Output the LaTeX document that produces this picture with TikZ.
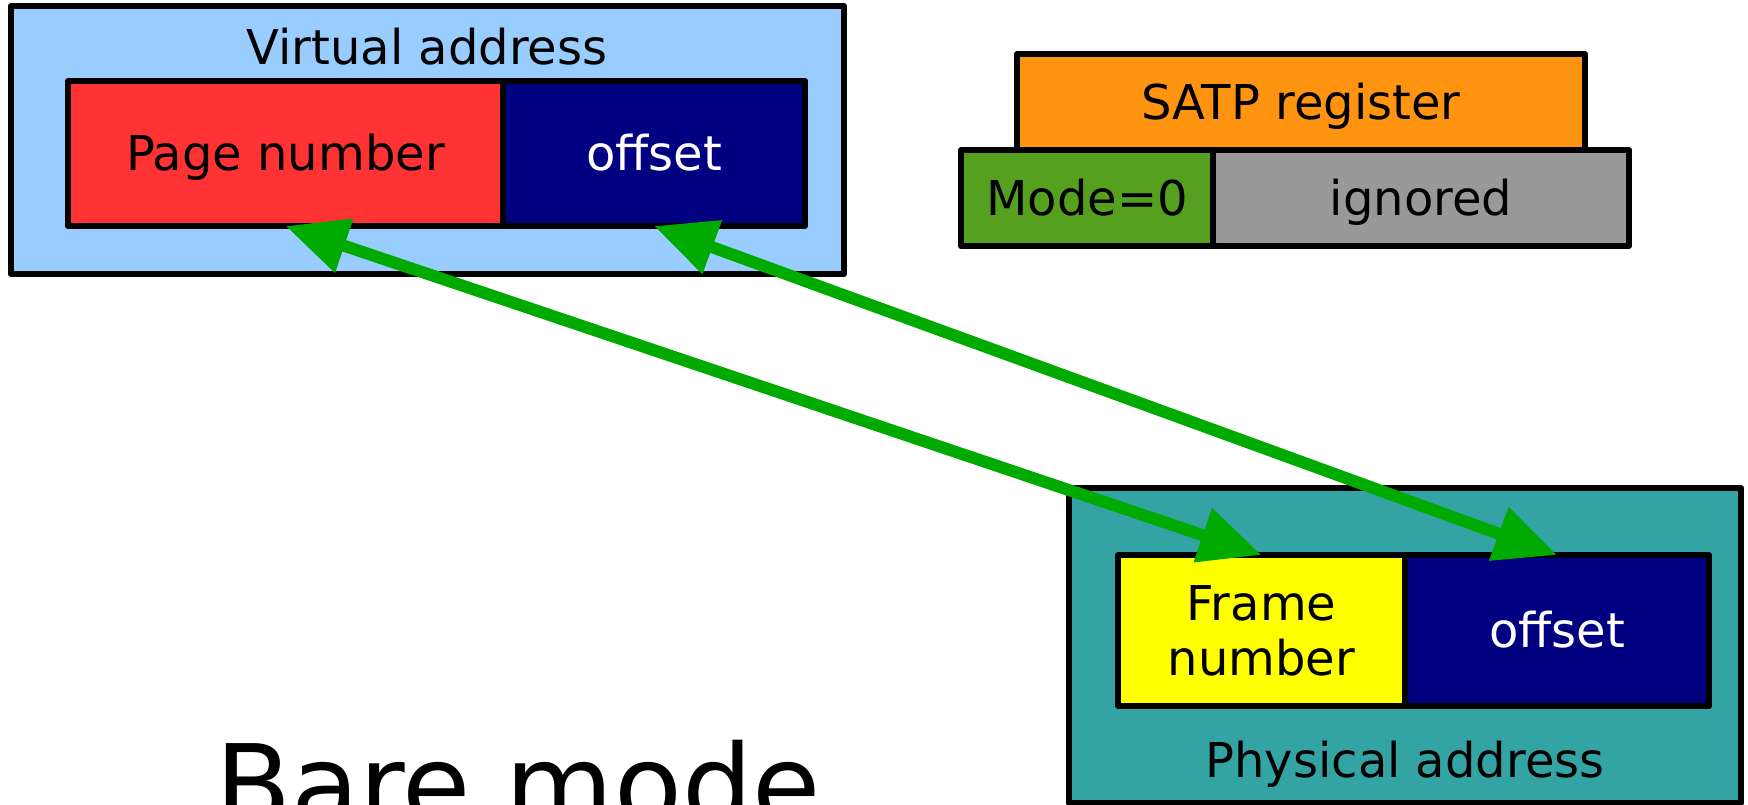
\documentclass[tikz,border=0pt]{standalone}
\usepackage{fontspec}
\setmainfont{DejaVu Sans}
\usetikzlibrary{positioning,arrows.meta}
\definecolor{vablue}{HTML}{99CCFF}
\definecolor{pagered}{HTML}{FF3333}
\definecolor{offnavy}{HTML}{000080}
\definecolor{satporange}{HTML}{FF9411}
\definecolor{modegreen}{HTML}{55A01F}
\definecolor{ignoredgrey}{HTML}{999999}
\definecolor{pateal}{HTML}{33A3A3}
\definecolor{framey}{HTML}{FFFF00}
\definecolor{linkgreen}{HTML}{00AA00}

\begin{document}
\begin{tikzpicture}[
    x=1pt, y=1pt,
    field/.style={rectangle, draw=black, line width=6pt, line join=round, outer sep=0pt, inner sep=0pt, minimum height=145pt, align=center, font=\fontsize{48}{55}\selectfont},
    oneline/.style={text height=41pt, text depth=6pt},
    outerbox/.style={rectangle, draw=black, line width=6pt, line join=round, outer sep=0pt, inner sep=0pt},
    boxlabel/.style={anchor=base, font=\fontsize{48}{55}\selectfont},
    link/.style={{Triangle[length=62pt,width=54pt]}-{Triangle[length=62pt,width=54pt]}, line width=12pt, linkgreen}
]
    \useasboundingbox (0,0) rectangle (1748,805);

    % Virtual address
    \node[outerbox, fill=vablue, minimum width=833pt, minimum height=268pt] (va) at (427.5,665) {};
    \node[boxlabel] (valabel) at (427,740) {Virtual address};
    \node[field, oneline, fill=pagered, minimum width=435pt] (vpn) at (285.5,651.5) {Page number};
    \node[field, oneline, fill=offnavy, text=white, minimum width=302pt, right=0pt of vpn] (voff) {offset};

    % SATP register
    \node[field, oneline, fill=satporange, minimum width=568pt, minimum height=96pt] (satp) at (1301,703) {SATP register};
    \node[field, oneline, fill=modegreen, minimum width=252pt, minimum height=96pt] (mode) at (1087,607) {Mode=0};
    \node[field, oneline, fill=ignoredgrey, minimum width=416pt, minimum height=96pt, right=0pt of mode] (ign) {ignored};

    % Physical address
    \node[outerbox, fill=pateal, minimum width=672pt, minimum height=315pt] (pa) at (1405,159.5) {};
    \node[field, fill=framey, minimum width=287pt, minimum height=151pt] (pfn) at (1261.5,174.5) {Frame\\number};
    \node[field, oneline, fill=offnavy, text=white, minimum width=304pt, minimum height=151pt, right=0pt of pfn] (poff) {offset};
    \node[boxlabel] (palabel) at (1405,27) {Physical address};

    % Title
    \node[anchor=base, font=\fontsize{111}{130}\selectfont] (baremode) at (518,-20) {Bare mode};

    % Arrows
    \draw[link] (vpn.south) -- (pfn.north);
    \draw[link] (voff.south) -- (poff.north);
\end{tikzpicture}
\end{document}
